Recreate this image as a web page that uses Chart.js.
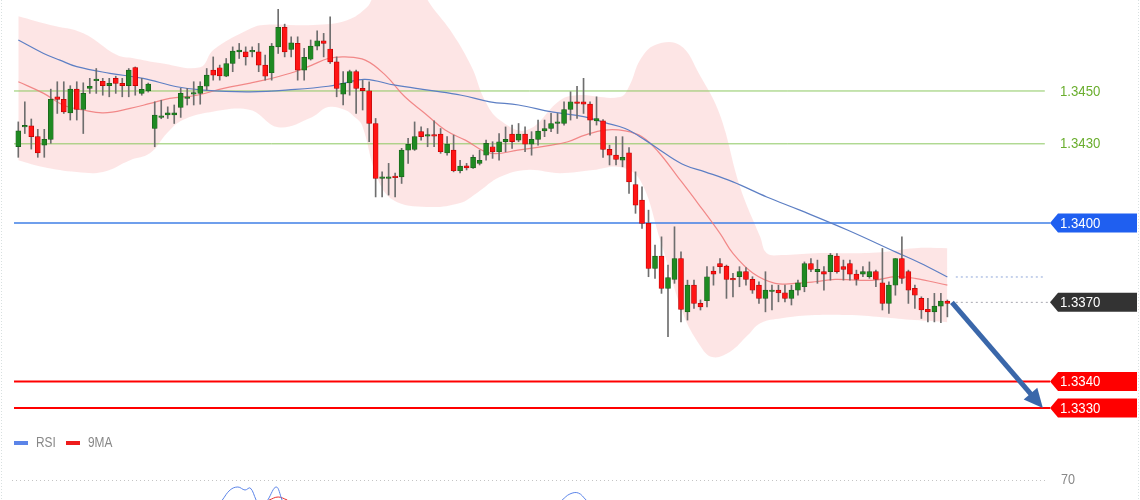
<!DOCTYPE html>
<html><head><meta charset="utf-8">
<script src="https://cdn.jsdelivr.net/npm/chart.js@4.4.1/dist/chart.umd.min.js"></script>
<style>html,body{margin:0;padding:0;background:#fff;}#wrap{position:relative;width:1140px;height:500px;}</style>
</head><body><div id="wrap"><canvas id="c" width="1140" height="500"></canvas></div>
<script>
// ---- candle data (price) ----
const opens = [1.34289,1.34364,1.34368,1.34327,1.34295,1.34317,1.34478,1.34468,1.34417,1.34507,1.34430,1.34510,1.34539,1.34537,1.34520,1.34548,1.34529,1.34520,1.34589,1.34491,1.34500,1.34358,1.34400,1.34409,1.34409,1.34438,1.34472,1.34488,1.34491,1.34518,1.34579,1.34588,1.34556,1.34604,1.34648,1.34648,1.34648,1.34648,1.34598,1.34569,1.34667,1.34741,1.34657,1.34680,1.34579,1.34620,1.34670,1.34690,1.34659,1.34610,1.34488,1.34531,1.34573,1.34510,1.34501,1.34377,1.34169,1.34169,1.34177,1.34175,1.34276,1.34279,1.34346,1.34329,1.34330,1.34337,1.34266,1.34276,1.34198,1.34217,1.34209,1.34226,1.34257,1.34289,1.34270,1.34308,1.34337,1.34314,1.34337,1.34299,1.34317,1.34349,1.34358,1.34377,1.34377,1.34430,1.34459,1.34459,1.34450,1.34387,1.34387,1.34279,1.34257,1.34238,1.34266,1.34146,1.34087,1.33999,1.33828,1.33875,1.33753,1.33787,1.33866,1.33664,1.33765,1.33696,1.33706,1.33818,1.33847,1.33837,1.33786,1.33797,1.33816,1.33787,1.33765,1.33715,1.33741,1.33746,1.33736,1.33715,1.33746,1.33759,1.33847,1.33816,1.33816,1.33816,1.33875,1.33835,1.33847,1.33807,1.33807,1.33797,1.33816,1.33774,1.33696,1.33765,1.33866,1.33816,1.33753,1.33715,1.33674,1.33664,1.33686,1.33705];
const highs = [1.34383,1.34459,1.34394,1.34355,1.34355,1.34507,1.34535,1.34535,1.34520,1.34535,1.34531,1.34548,1.34585,1.34548,1.34548,1.34556,1.34548,1.34585,1.34591,1.34548,1.34530,1.34459,1.34465,1.34440,1.34447,1.34510,1.34510,1.34535,1.34535,1.34585,1.34629,1.34598,1.34623,1.34667,1.34680,1.34667,1.34667,1.34680,1.34636,1.34680,1.34809,1.34753,1.34705,1.34705,1.34661,1.34693,1.34728,1.34718,1.34781,1.34629,1.34573,1.34579,1.34579,1.34541,1.34535,1.34396,1.34194,1.34226,1.34189,1.34283,1.34321,1.34383,1.34364,1.34358,1.34387,1.34358,1.34327,1.34333,1.34238,1.34226,1.34257,1.34276,1.34314,1.34308,1.34339,1.34364,1.34371,1.34377,1.34364,1.34346,1.34390,1.34390,1.34415,1.34415,1.34459,1.34497,1.34518,1.34548,1.34459,1.34478,1.34392,1.34295,1.34327,1.34327,1.34286,1.34194,1.34137,1.34049,1.33917,1.33948,1.33841,1.33986,1.33891,1.33784,1.33784,1.33709,1.33835,1.33835,1.33866,1.33841,1.33810,1.33835,1.33832,1.33797,1.33778,1.33816,1.33765,1.33765,1.33765,1.33765,1.33784,1.33853,1.33866,1.33860,1.33835,1.33885,1.33885,1.33860,1.33860,1.33822,1.33835,1.33853,1.33822,1.33904,1.33778,1.33866,1.33948,1.33822,1.33765,1.33721,1.33715,1.33734,1.33734,1.33709];
const lows = [1.34249,1.34339,1.34280,1.34249,1.34249,1.34302,1.34415,1.34415,1.34390,1.34390,1.34339,1.34491,1.34491,1.34484,1.34478,1.34491,1.34478,1.34478,1.34484,1.34484,1.34496,1.34289,1.34395,1.34396,1.34377,1.34400,1.34447,1.34447,1.34450,1.34503,1.34541,1.34541,1.34554,1.34573,1.34623,1.34598,1.34629,1.34573,1.34541,1.34541,1.34642,1.34629,1.34629,1.34541,1.34541,1.34617,1.34655,1.34629,1.34604,1.34478,1.34447,1.34484,1.34415,1.34428,1.34308,1.34099,1.34099,1.34106,1.34099,1.34150,1.34226,1.34275,1.34314,1.34289,1.34289,1.34264,1.34257,1.34194,1.34190,1.34201,1.34207,1.34220,1.34238,1.34245,1.34238,1.34270,1.34283,1.34308,1.34270,1.34257,1.34295,1.34327,1.34346,1.34339,1.34371,1.34390,1.34396,1.34415,1.34333,1.34371,1.34249,1.34220,1.34220,1.34213,1.34112,1.34037,1.33980,1.33797,1.33791,1.33734,1.33570,1.33772,1.33626,1.33633,1.33677,1.33671,1.33683,1.33765,1.33810,1.33715,1.33721,1.33759,1.33765,1.33734,1.33696,1.33664,1.33671,1.33702,1.33702,1.33690,1.33727,1.33740,1.33816,1.33772,1.33746,1.33784,1.33810,1.33784,1.33784,1.33765,1.33797,1.33791,1.33759,1.33671,1.33658,1.33727,1.33772,1.33696,1.33677,1.33639,1.33626,1.33626,1.33623,1.33645];
const closes = [1.34349,1.34368,1.34327,1.34266,1.34317,1.34468,1.34468,1.34421,1.34507,1.34430,1.34491,1.34518,1.34541,1.34520,1.34529,1.34529,1.34520,1.34579,1.34520,1.34506,1.34526,1.34409,1.34405,1.34417,1.34417,1.34491,1.34478,1.34491,1.34518,1.34560,1.34560,1.34557,1.34604,1.34651,1.34655,1.34629,1.34652,1.34598,1.34556,1.34670,1.34741,1.34648,1.34682,1.34579,1.34627,1.34670,1.34690,1.34680,1.34610,1.34510,1.34529,1.34573,1.34510,1.34501,1.34377,1.34169,1.34175,1.34175,1.34172,1.34276,1.34298,1.34327,1.34327,1.34330,1.34329,1.34270,1.34299,1.34198,1.34216,1.34209,1.34249,1.34238,1.34302,1.34270,1.34308,1.34317,1.34308,1.34337,1.34299,1.34317,1.34348,1.34358,1.34377,1.34383,1.34430,1.34459,1.34453,1.34450,1.34390,1.34396,1.34279,1.34257,1.34241,1.34249,1.34156,1.34068,1.33999,1.33828,1.33875,1.33753,1.33794,1.33866,1.33673,1.33765,1.33696,1.33683,1.33797,1.33807,1.33835,1.33787,1.33785,1.33816,1.33787,1.33746,1.33715,1.33746,1.33742,1.33736,1.33715,1.33746,1.33774,1.33847,1.33825,1.33825,1.33807,1.33879,1.33816,1.33825,1.33807,1.33787,1.33816,1.33816,1.33787,1.33696,1.33765,1.33866,1.33791,1.33746,1.33727,1.33671,1.33664,1.33686,1.33705,1.33696];

// ---- indicator readings [candle index, value] ----
const bbUpper = [[0,1.34783],[4.9,1.34750],[10,1.34719],[15.2,1.34636],[17.7,1.34624],[21.8,1.34606],[28,1.34590],[30,1.34655],[35.2,1.34730],[37.7,1.34750],[45.4,1.34750],[50.6,1.34768],[53.7,1.34818],[54.9,1.34863],[58.7,1.34920],[61.8,1.34882],[63.7,1.34818],[66.8,1.34719],[69.8,1.34590],[71.8,1.34465],[74.1,1.34390],[78.3,1.34352],[83.4,1.34465],[86,1.34484],[92.6,1.34477],[94.1,1.34522],[95.7,1.34617],[98,1.34674],[101.8,1.34674],[104.9,1.34560],[108,1.34409],[111.1,1.34136],[114.2,1.33947],[115.2,1.33886],[117.5,1.33879],[122.6,1.33886],[127.7,1.33886],[132.9,1.33890],[138,1.33905],[143,1.33905]];
const bbLower = [[0,1.34238],[3.8,1.34212],[9,1.34193],[13,1.34193],[17.2,1.34238],[20.3,1.34265],[22.9,1.34341],[25.3,1.34390],[29.5,1.34420],[35.7,1.34428],[40,1.34363],[45.2,1.34401],[47.7,1.34439],[50.3,1.34428],[51.8,1.34401],[52.9,1.34371],[55.2,1.34174],[57.7,1.34087],[62.9,1.34061],[68,1.34076],[70.6,1.34114],[74.1,1.34174],[78.3,1.34201],[83.4,1.34189],[88.5,1.34201],[92.6,1.34212],[95.7,1.34163],[98.8,1.33936],[102.3,1.33659],[104.9,1.33538],[106.8,1.33493],[109.5,1.33512],[112.3,1.33576],[114.2,1.33621],[117.5,1.33640],[122.6,1.33652],[127.7,1.33652],[132.9,1.33644],[138,1.33633],[143,1.33625]];
const maShort = [[0,1.34535],[3.9,1.34491],[6.9,1.34447],[10,1.34428],[13.1,1.34417],[17.2,1.34434],[20.3,1.34453],[23.3,1.34472],[27.5,1.34484],[31.6,1.34510],[35.7,1.34530],[39,1.34548],[42.6,1.34573],[45.2,1.34598],[47.7,1.34623],[50.3,1.34629],[53.4,1.34617],[56.5,1.34560],[59.5,1.34478],[62.6,1.34415],[65.7,1.34352],[68.8,1.34314],[72.6,1.34265],[76.9,1.34276],[82.1,1.34295],[84.6,1.34308],[87.2,1.34333],[90.3,1.34352],[93.4,1.34349],[96,1.34327],[98.5,1.34270],[101.5,1.34175],[104.6,1.34075],[108,1.33961],[110,1.33885],[113.1,1.33810],[116.5,1.33772],[119.5,1.33772],[122.6,1.33778],[125.7,1.33787],[128.8,1.33784],[131.9,1.33784],[135,1.33797],[138,1.33791],[143,1.33765]];
const maLong = [[0,1.34693],[3.9,1.34642],[6.4,1.34617],[9,1.34592],[14.1,1.34567],[19.2,1.34548],[24.4,1.34516],[28.5,1.34503],[35.7,1.34497],[42.6,1.34506],[47.7,1.34518],[50.3,1.34531],[53.4,1.34544],[58,1.34522],[63.1,1.34503],[68.2,1.34484],[72.6,1.34459],[77,1.34447],[82.1,1.34421],[87.2,1.34402],[90.3,1.34380],[93.4,1.34358],[96.5,1.34314],[99.5,1.34264],[102.6,1.34219],[105.7,1.34194],[110,1.34156],[115.2,1.34099],[120.3,1.34049],[127.7,1.33973],[135,1.33891],[138.8,1.33849],[143,1.33796]];
const rsi = [[31.4,50],[32.6,60],[33.8,63],[34.9,60],[35.7,62],[36.6,50],[37.5,null],[38.4,50],[39.7,63],[40.6,50],[41,null],[83.7,50],[84.9,56],[86.2,57],[87.4,50]];
const rsiMa = [[38.6,50],[40,53],[41.4,50]];

// ---- levels ----
const greenLevels = [1.3450, 1.3430];
const keyLevels = [1.3400, 1.3370, 1.3340, 1.3330];
const keyLabels = ['1.3400', '1.3370', '1.3340', '1.3330'];
const greenLabels = ['1.3450', '1.3430'];
const rsiLevel = 70;

const idx = opens.map((_, i) => i);
const pts = arr => arr.map(p => ({x: p[0], y: p[1]}));
const GREEN = '#1f8a22', RED = '#ff1414';
const bodyColors = idx.map(i => closes[i] >= opens[i] ? GREEN : RED);
const bodyBorders = idx.map(i => closes[i] >= opens[i] ? '#1a5c1a' : '#b80000');

const LINE_START = -0.66, LINE_END = 158.8;
const lvl = (v, color, width, dash, x0, x1) => ({
  type: 'line', data: [{x: x0 ?? LINE_START, y: v}, {x: x1 ?? LINE_END, y: v}],
  borderColor: color, borderWidth: width, borderDash: dash || [], pointRadius: 0, fill: false, order: 6
});

const datasets = [
  {type:'line', data: pts(bbUpper), borderColor:'rgba(0,0,0,0)', borderWidth:0, pointRadius:0, fill:false, tension:0.4, order:30},
  {type:'line', data: pts(bbLower), borderColor:'rgba(0,0,0,0)', borderWidth:0, pointRadius:0, fill:'-1', backgroundColor:'rgba(250,178,178,0.34)', tension:0.4, order:29},
  lvl(greenLevels[0], '#8cc860', 1, null, LINE_START, 158.0),
  lvl(greenLevels[1], '#8cc860', 1, null, LINE_START, 158.0),
  lvl(keyLevels[0], '#3f7fe6', 1.5),
  lvl(keyLevels[2], '#ff0000', 2),
  lvl(keyLevels[3], '#ff0000', 2),
  lvl(keyLevels[1], '#a8a8b0', 1, [2,3], 144.3, 158.8),
  lvl(maLong[maLong.length-1][1], '#8ea6d8', 1, [2,3], 144.3, 158.0),
  {type:'line', data: pts(maShort), borderColor:'rgba(240,120,120,0.85)', borderWidth:1.2, pointRadius:0, fill:false, tension:0.4, order:4},
  {type:'line', data: pts(maLong), borderColor:'#5d7fc4', borderWidth:1.2, pointRadius:0, fill:false, tension:0.4, order:3},
  {type:'bar', data: idx.map(i => ({x:i, y:[lows[i], highs[i]]})), backgroundColor:'#6e6e6e', barThickness:1, grouped:false, order:2},
  {type:'bar', data: idx.map(i => ({x:i, y:[Math.min(opens[i],closes[i]), Math.max(opens[i],closes[i])]})),
    backgroundColor: bodyColors, borderColor: bodyBorders, borderWidth:0.7, borderSkipped:false, barThickness:5, minBarLength:1.5, grouped:false, order:1},
  {type:'line', yAxisID:'yr', data: pts(rsi), borderColor:'#5b84e8', borderWidth:1, pointRadius:0, fill:false, tension:0.4, spanGaps:false, order:7},
  {type:'line', yAxisID:'yr', data: pts(rsiMa), borderColor:'#e83030', borderWidth:1, pointRadius:0, fill:false, tension:0.4, order:8}
];

function drawText(ctx, text, x, y, color, size, sx) {
  ctx.save();
  ctx.translate(x, y); ctx.scale(sx || 0.9, 1);
  ctx.font = (size || 15) + 'px "Liberation Sans", Arial, sans-serif';
  ctx.fillStyle = color; ctx.textAlign = 'left'; ctx.textBaseline = 'middle';
  ctx.fillText(text, 0, 0);
  ctx.restore();
}
function tag(ctx, yPix, color, text) {
  const x0 = 1050, x1 = 1137, h = 19, n = 8;
  ctx.beginPath();
  ctx.moveTo(x0, yPix); ctx.lineTo(x0 + n, yPix - h/2); ctx.lineTo(x1, yPix - h/2);
  ctx.lineTo(x1, yPix + h/2); ctx.lineTo(x0 + n, yPix + h/2); ctx.closePath();
  ctx.fillStyle = color; ctx.fill();
  drawText(ctx, text, 1060, yPix + 0.5, '#ffffff', 15, 0.88);
}

const overlay = {
  id: 'overlay',
  afterDatasetsDraw(chart) {
    const {ctx, scales: {x, y, yr}} = chart;
    ctx.save();
    ctx.strokeStyle = '#d8e0e0'; ctx.lineWidth = 1; ctx.setLineDash([1,2]);
    ctx.beginPath(); ctx.moveTo(1.5, 0); ctx.lineTo(1.5, 500); ctx.moveTo(1138.5, 0); ctx.lineTo(1138.5, 500); ctx.stroke();
    const y70 = Math.round(yr.getPixelForValue(rsiLevel)) + 0.5;
    ctx.strokeStyle = '#c4c4c4'; ctx.setLineDash([1,3]);
    ctx.beginPath(); ctx.moveTo(12, y70); ctx.lineTo(1045, y70); ctx.stroke();
    ctx.setLineDash([]);
    drawText(ctx, String(rsiLevel), 1061, y70, '#888', 14, 0.9);
    ctx.fillStyle = '#5b84e8'; ctx.fillRect(14, 441, 14, 4);
    drawText(ctx, 'RSI', 36, 443, '#888', 14, 0.85);
    ctx.fillStyle = '#ee1c1c'; ctx.fillRect(66, 441, 14, 4);
    drawText(ctx, '9MA', 88, 443, '#888', 14, 0.85);
    greenLevels.forEach((v, k) => drawText(ctx, greenLabels[k], 1060, y.getPixelForValue(v) + 0.5, '#6aae2e', 15, 0.88));
    const tagColors = ['#1f5ff0', '#333333', '#ff0000', '#ff0000'];
    keyLevels.forEach((v, k) => tag(ctx, y.getPixelForValue(v), tagColors[k], keyLabels[k]));
    const sx = x.getPixelForValue(143.7), sy = y.getPixelForValue(keyLevels[1]);
    const ex = x.getPixelForValue(157.7), ey = y.getPixelForValue(keyLevels[3]);
    const ang = Math.atan2(ey - sy, ex - sx), hl = 19, hw = 9;
    const bx = ex - hl * Math.cos(ang), by = ey - hl * Math.sin(ang);
    ctx.strokeStyle = '#3a67aa'; ctx.lineWidth = 5; ctx.lineCap = 'butt';
    ctx.beginPath(); ctx.moveTo(sx, sy); ctx.lineTo(bx + 2*Math.cos(ang), by + 2*Math.sin(ang)); ctx.stroke();
    ctx.fillStyle = '#3a67aa';
    ctx.beginPath(); ctx.moveTo(ex, ey);
    ctx.lineTo(bx + hw * Math.sin(ang), by - hw * Math.cos(ang));
    ctx.lineTo(bx - hw * Math.sin(ang), by + hw * Math.cos(ang));
    ctx.closePath(); ctx.fill();
    ctx.restore();
  }
};

new Chart(document.getElementById('c'), {
  type: 'line',
  data: { datasets },
  options: {
    responsive: false, animation: false, devicePixelRatio: 1,
    layout: { padding: 0 },
    plugins: { legend: { display: false }, tooltip: { enabled: false } },
    scales: {
      x: { type: 'linear', min: -2.817, max: 172.649, display: false, offset: false },
      y: { type: 'linear', min: 1.329519, max: 1.348444, display: false },
      yr: { type: 'linear', min: 50, max: 550, display: false }
    }
  },
  plugins: [overlay]
});
</script>
</body></html>
